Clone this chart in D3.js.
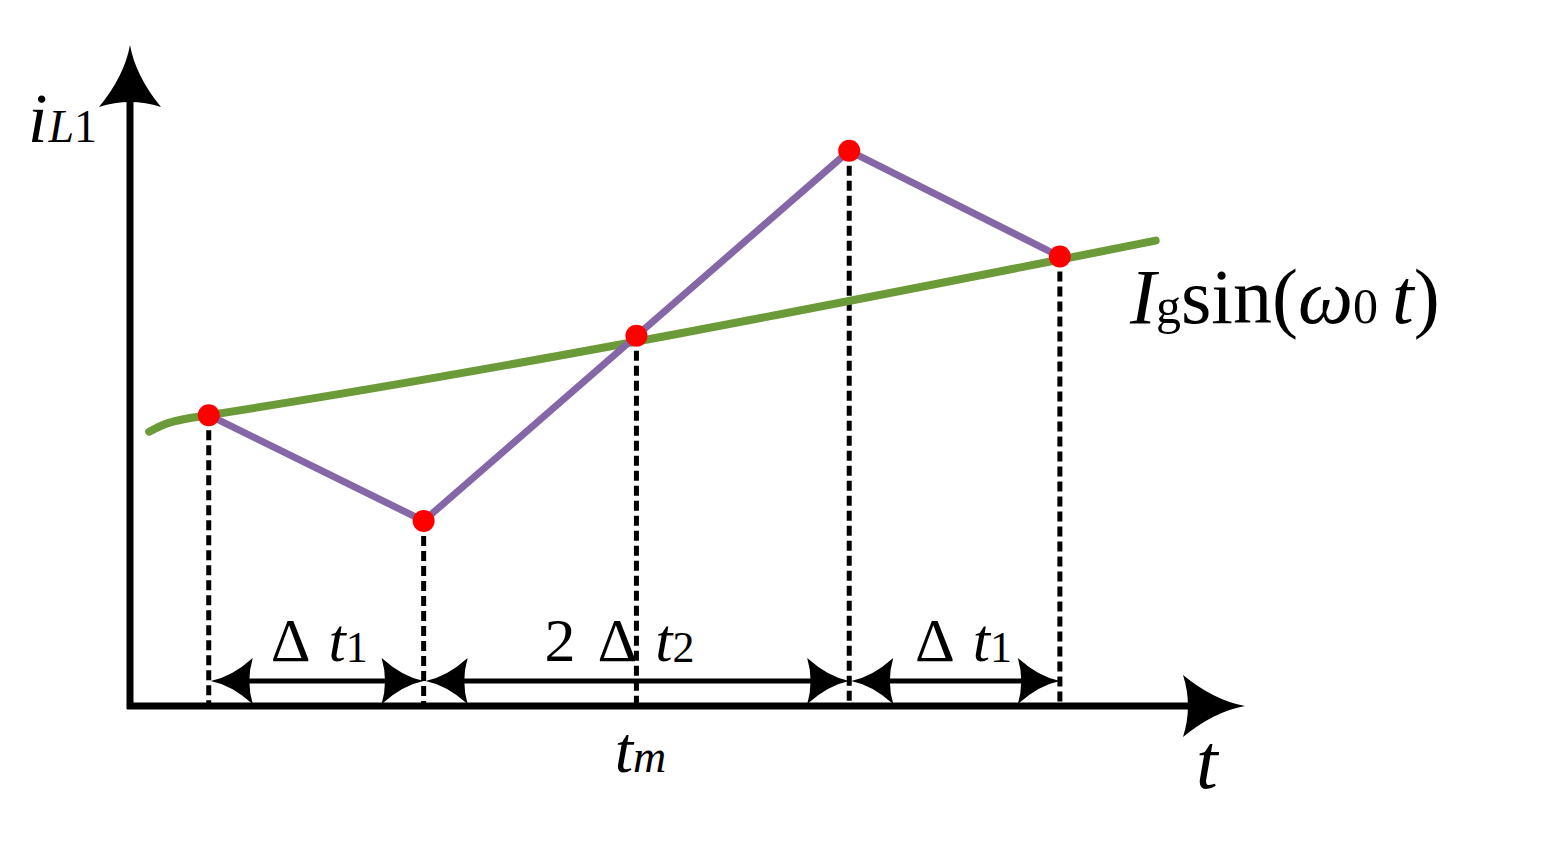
<!DOCTYPE html>
<html>
<head>
<meta charset="utf-8">
<script src="https://cdn.jsdelivr.net/npm/d3@7"></script>
<style>
  html, body { margin: 0; padding: 0; background: #fff; }
</style>
</head>
<body>
<svg id="chart" width="1546" height="841" font-family="'Liberation Serif', 'Times New Roman', 'DejaVu Serif', serif"></svg>
<script>
// values (t in units of one switching step, i in arbitrary units)
const tPoints = [0.75, 1.76, 2.76, 3.76, 4.75];
const iPoints = [4.4, 2.8, 5.6, 8.4, 6.8];
// reference current Ig sin(w0 t), only a short piece of it is visible
const tGreen = [0.47, 0.55, 0.65, 0.75, 5.2];
const iGreen = [4.15, 4.27, 4.35, 4.4, 7.04];
// intervals marked under the curve: [from index, to index, label parts]
const intervals = [
  [0, 1, ["Δ", "t", "1"]],
  [1, 3, ["2", "Δ", "t", "2"]],
  [3, 4, ["Δ", "t", "1"]]
];
const tmIndex = 2;
const arrowLevel = 0.38;

const w = 1546, h = 841;
const serif = "'Liberation Serif', 'Times New Roman', 'DejaVu Serif', serif";
const svg = d3.select("#chart");
svg.append("rect").attr("width", w).attr("height", h).attr("fill", "#fff");

const x = d3.scaleLinear().domain([0.38, 5.62]).range([130, 1245]);
const y = d3.scaleLinear().domain([0, 10]).range([706, 45]);

// concave "stealth" arrow head, tip at the origin pointing to +x
function head(L, W) {
  return `M0,0 Q${-0.5 * L},${-0.18 * W} ${-L},${-W} Q${-0.84 * L},0 ${-L},${W} Q${-0.5 * L},${0.18 * W} 0,0Z`;
}

// dashed drop lines
svg.selectAll(".drop")
  .data(tPoints)
  .enter().append("line")
  .attr("class", "drop")
  .attr("x1", d => x(d)).attr("x2", d => x(d))
  .attr("y1", (d, i) => y(iPoints[i]))
  .attr("y2", y(0))
  .attr("stroke", "#000")
  .attr("stroke-width", 5)
  .attr("stroke-dasharray", "10,5");

// green reference
const green = d3.line()
  .x((d, i) => x(tGreen[i]))
  .y(d => y(d))
  .curve(d3.curveMonotoneX);
svg.append("path")
  .attr("d", green(iGreen))
  .attr("fill", "none")
  .attr("stroke", "#6b9a38")
  .attr("stroke-width", 8)
  .attr("stroke-linecap", "round");

// purple inductor current
const purple = d3.line()
  .x((d, i) => x(tPoints[i]))
  .y(d => y(d));
svg.append("path")
  .attr("d", purple(iPoints))
  .attr("fill", "none")
  .attr("stroke", "#8566a6")
  .attr("stroke-width", 7)
  .attr("stroke-linejoin", "round");

// sample points
svg.selectAll(".pt")
  .data(iPoints)
  .enter().append("circle")
  .attr("class", "pt")
  .attr("cx", (d, i) => x(tPoints[i]))
  .attr("cy", d => y(d))
  .attr("r", 11)
  .attr("fill", "#ff0000");

// axes
const x0 = x.domain()[0], x1 = x.domain()[1];
svg.append("line")
  .attr("x1", x(x0) - 3).attr("x2", x(x1) - 30)
  .attr("y1", y(0)).attr("y2", y(0))
  .attr("stroke", "#000").attr("stroke-width", 7);
svg.append("path")
  .attr("d", head(62, 31))
  .attr("transform", `translate(${x(x1)},${y(0)})`);
svg.append("line")
  .attr("x1", x(x0)).attr("x2", x(x0))
  .attr("y1", y(0) + 3).attr("y2", y(10) + 30)
  .attr("stroke", "#000").attr("stroke-width", 7);
svg.append("path")
  .attr("d", head(62, 31))
  .attr("transform", `translate(${x(x0)},${y(10)}) rotate(-90)`);

// interval arrows
const ay = y(arrowLevel);
const labelShift = [2, -18, 8];
intervals.forEach(([a, b, parts], k) => {
  const xa = x(tPoints[a]) + 2, xb = x(tPoints[b]);
  svg.append("line")
    .attr("x1", xa + 10).attr("x2", xb - 10)
    .attr("y1", ay).attr("y2", ay)
    .attr("stroke", "#000").attr("stroke-width", 5);
  svg.append("path").attr("d", head(42, 23))
    .attr("transform", `translate(${xa},${ay}) rotate(180)`);
  svg.append("path").attr("d", head(42, 23))
    .attr("transform", `translate(${xb},${ay})`);

  const t = svg.append("text")
    .attr("x", (xa + xb) / 2 + labelShift[k])
    .attr("y", ay - 20)
    .attr("text-anchor", "middle")
    .attr("font-family", serif)
    .attr("font-size", 62);
  const n = parts.length;
  parts.forEach((p, j) => {
    const s = t.append("tspan").text(p);
    if (j === n - 2) s.attr("font-style", "italic");
    if (j === n - 1) s.attr("font-size", 44).attr("dy", 1);
    if (j > 0 && j < n - 1) s.attr("dx", j === n - 2 ? 18 : 22);
  });
});

// t_m under the axis
const tm = svg.append("text")
  .attr("x", x(tPoints[tmIndex]) + 4)
  .attr("y", 772)
  .attr("text-anchor", "middle")
  .attr("font-family", serif)
  .attr("font-size", 66)
  .attr("font-style", "italic");
tm.append("tspan").text("t");
tm.append("tspan").attr("font-size", 46).text("m");

// axis labels
svg.append("text")
  .attr("x", 1196).attr("y", 788)
  .attr("font-family", serif)
  .attr("font-size", 78)
  .attr("font-style", "italic")
  .text("t");

const il = svg.append("text")
  .attr("x", 28).attr("y", 142)
  .attr("font-family", serif)
  .attr("font-size", 70);
il.append("tspan").attr("font-style", "italic").text("i");
il.append("tspan").attr("font-size", 46).attr("font-style", "italic").attr("dx", 1).text("L");
il.append("tspan").attr("font-size", 46).text("1");

// curve label
const gl = svg.append("text")
  .attr("x", 1130).attr("y", 323)
  .attr("font-family", serif)
  .attr("font-size", 78);
gl.append("tspan").attr("font-style", "italic").text("I");
gl.append("tspan").attr("font-size", 50).text("g");
gl.append("tspan").text("sin(");
gl.append("tspan").attr("font-style", "italic").text("ω");
gl.append("tspan").attr("font-size", 50).text("0");
gl.append("tspan").attr("font-style", "italic").attr("dx", 14).text("t");
gl.append("tspan").text(")");
</script>
</body>
</html>
